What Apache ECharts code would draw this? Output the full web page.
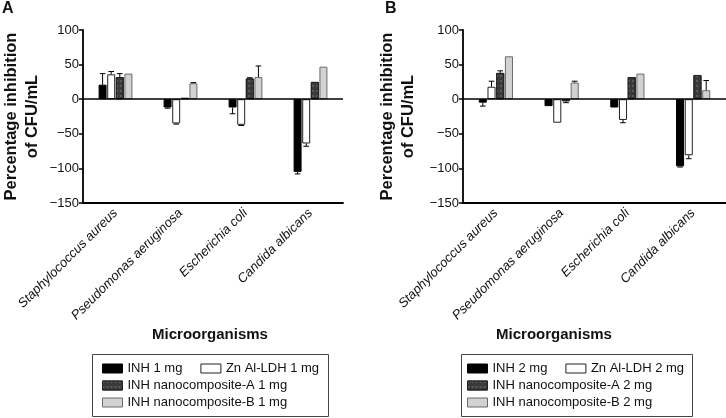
<!DOCTYPE html>
<html>
<head>
<meta charset="utf-8">
<script src="https://cdn.jsdelivr.net/npm/echarts@6/dist/echarts.min.js"></script>
<style>html,body{margin:0;padding:0;background:#fff}#c{width:726px;height:418px}</style>
</head>
<body>
<div id="c"></div>
<script>
const categories = ['Staphylococcus aureus', 'Pseudomonas aeruginosa', 'Escherichia coli', 'Candida albicans'];
const yMin = -150, yMax = 100, yInterval = 50;

// Panel A (1 mg)
const namesA = ['INH 1 mg', 'Zn Al-LDH 1 mg', 'INH nanocomposite-A 1 mg', 'INH nanocomposite-B 1 mg'];
const inh1 = [21, -12, -12, -105];
const inh1Err = [37, -13, -21, -108];
const zn1 = [36, -35, -37, -64];
const zn1Err = [40, -36, -38, -68];
const nanoA1 = [32, 2, 30, 25];
const nanoA1Err = [37, null, 31, null];
const nanoB1 = [37, 23, 32, 47];
const nanoB1Err = [null, 24, 48, null];

// Panel B (2 mg)
const namesB = ['INH 2 mg', 'Zn Al-LDH 2 mg', 'INH nanocomposite-A 2 mg', 'INH nanocomposite-B 2 mg'];
const inh2 = [-5, -10, -12, -97];
const inh2Err = [-10, null, null, -98];
const zn2 = [18, -34, -30, -81];
const zn2Err = [26, null, -34, -86];
const nanoA2 = [38, -3, 32, 35];
const nanoA2Err = [41, -5, null, null];
const nanoB2 = [62, 24, 37, 13];
const nanoB2Err = [null, 26, null, 27];

const FONT = 'Liberation Sans, Arial, sans-serif';
const catGap = 0.48, barGapFrac = 0.08;

const styles = [
  {color: '#000000', borderColor: '#000000', borderWidth: 1},
  {color: '#ffffff', borderColor: '#222222', borderWidth: 1},
  {color: '#3a3a3a', borderColor: '#222222', borderWidth: 1,
   decal: {symbol: 'rect', symbolSize: 0.6, color: 'rgba(255,255,255,0.55)', dashArrayX: [1.5, 2], dashArrayY: [1.5, 2.5], rotation: 0}},
  {color: '#d2d2d2', borderColor: '#6a6a6a', borderWidth: 1}
];

function minusFmt(v) { return String(v).replace('-', '\u2212'); }

const grids = [
  {left: 79, width: 264, top: 30, height: 173},
  {left: 463, width: 263, top: 30, height: 173}
];

const xAxes = grids.map((g, i) => ({
  type: 'category', gridIndex: i, data: categories,
  axisLine: {onZero: false, lineStyle: {color: '#000', width: 1.8}},
  axisTick: {alignWithLabel: true, length: 4, lineStyle: {color: '#000', width: 1.5}},
  axisLabel: {interval: 0, rotate: 45, fontStyle: 'italic', fontSize: 13, color: '#111', fontFamily: FONT, margin: 8}
}));

const yAxes = grids.map((g, i) => ({
  type: 'value', gridIndex: i, min: yMin, max: yMax, interval: yInterval,
  name: 'Percentage inhibition\nof CFU/mL', nameLocation: 'middle', nameRotate: 90,
  nameGap: i === 0 ? 40 : 44,
  nameTextStyle: {fontSize: 16.5, fontWeight: 'bold', color: '#111', fontFamily: FONT, lineHeight: 21},
  axisLine: {show: true, lineStyle: {color: '#000', width: 1.8}},
  axisTick: {show: true, length: 4, lineStyle: {color: '#000', width: 1.5}},
  splitLine: {show: false},
  axisLabel: {fontSize: 13, color: '#111', fontFamily: FONT, formatter: minusFmt, margin: 4}
}));

function errSeries(panel, idx, vals, errs) {
  const data = [];
  vals.forEach((v, k) => { if (errs[k] !== null) data.push([k, errs[k], v]); });
  return {
    type: 'custom', xAxisIndex: panel, yAxisIndex: panel, z: 5, silent: true,
    data: data,
    renderItem: function (params, api) {
      const band = api.size([1, 0])[0];
      const w = band * (1 - catGap) / (4 + 3 * barGapFrac);
      const off = (idx - 1.5) * w * (1 + barGapFrac);
      const c = api.value(0);
      const x = api.coord([c, 0])[0] + off;
      const y1 = api.coord([c, api.value(2)])[1];
      const y2 = api.coord([c, api.value(1)])[1];
      const cap = w * 0.35;
      const st = {stroke: '#000', lineWidth: 1};
      return {type: 'group', children: [
        {type: 'line', shape: {x1: x, y1: y1, x2: x, y2: y2}, style: st},
        {type: 'line', shape: {x1: x - cap, y1: y2, x2: x + cap, y2: y2}, style: st}
      ]};
    }
  };
}

const series = [];
const panels = [
  {names: namesA, vals: [inh1, zn1, nanoA1, nanoB1], errs: [inh1Err, zn1Err, nanoA1Err, nanoB1Err]},
  {names: namesB, vals: [inh2, zn2, nanoA2, nanoB2], errs: [inh2Err, zn2Err, nanoA2Err, nanoB2Err]}
];
panels.forEach((p, pi) => {
  p.names.forEach((n, si) => {
    const s = {
      type: 'bar', name: n, xAxisIndex: pi, yAxisIndex: pi, data: p.vals[si],
      barCategoryGap: (catGap * 100) + '%', barGap: (barGapFrac * 100) + '%',
      itemStyle: styles[si]
    };
    if (si === 0) {
      s.markLine = {silent: true, symbol: 'none', label: {show: false},
        lineStyle: {color: '#000', width: 1.6, type: 'solid'}, data: [{yAxis: 0}], z: 6};
    }
    series.push(s);
  });
  p.names.forEach((n, si) => series.push(errSeries(pi, si, p.vals[si], p.errs[si])));
});

const legendBase = {
  orient: 'horizontal', icon: 'rect', itemWidth: 20, itemHeight: 9, itemGap: 18, itemTextGap: 4,
  itemStyle: {borderWidth: 1},
  textStyle: {fontSize: 13, color: '#111', fontFamily: FONT}, selectedMode: false, padding: 0
};
const legends = [];
[[namesA, 102], [namesB, 467]].forEach(([names, left]) => {
  legends.push(Object.assign({}, legendBase, {left: left, top: 362, data: [names[0], names[1]]}));
  legends.push(Object.assign({}, legendBase, {left: left, top: 379, data: [names[2]]}));
  legends.push(Object.assign({}, legendBase, {left: left, top: 396, data: [names[3]]}));
});

const option = {
  animation: false,
  backgroundColor: '#fff',
  textStyle: {fontFamily: FONT},
  title: [
    {text: 'A', left: 2, top: 1, padding: 0, textStyle: {fontSize: 16, fontWeight: 'bold', color: '#111', fontFamily: FONT}},
    {text: 'B', left: 385, top: 1, padding: 0, textStyle: {fontSize: 16, fontWeight: 'bold', color: '#111', fontFamily: FONT}}
  ],
  grid: grids,
  xAxis: xAxes,
  yAxis: yAxes,
  legend: legends,
  series: series,
  graphic: [
    {type: 'text', style: {text: 'Microorganisms', x: 210, y: 335, align: 'center', verticalAlign: 'middle', font: 'bold 15px ' + FONT, fill: '#111'}},
    {type: 'text', style: {text: 'Microorganisms', x: 554, y: 335, align: 'center', verticalAlign: 'middle', font: 'bold 15px ' + FONT, fill: '#111'}},
    {type: 'rect', shape: {x: 92.5, y: 354.5, width: 236, height: 62}, style: {fill: 'none', stroke: '#444', lineWidth: 1}, z: -1},
    {type: 'rect', shape: {x: 461.5, y: 354.5, width: 231, height: 62}, style: {fill: 'none', stroke: '#444', lineWidth: 1}, z: -1}
  ]
};

const chart = echarts.init(document.getElementById('c'), null, {renderer: 'canvas'});
chart.setOption(option);
</script>
</body>
</html>
